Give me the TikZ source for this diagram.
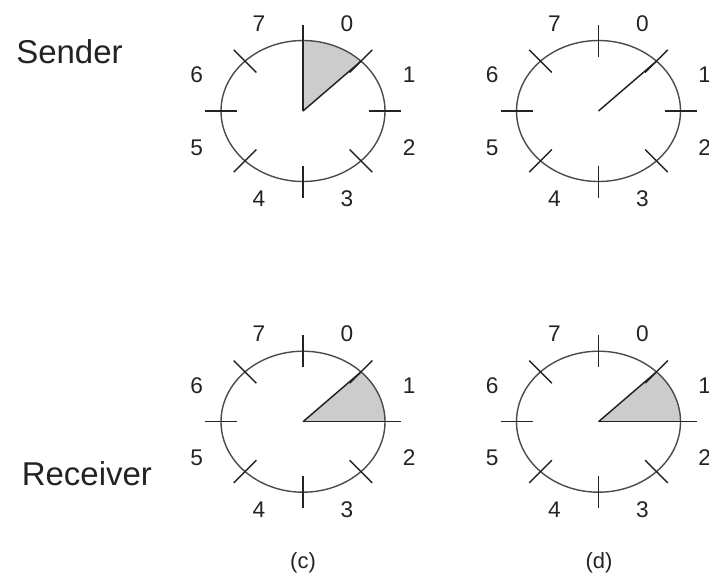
\documentclass[tikz,border=0pt]{standalone}
\usepackage{fontspec}
\setmainfont{Liberation Sans}
\definecolor{ink}{RGB}{35,35,35}
\definecolor{rimgray}{RGB}{75,75,75}
\definecolor{slotgray}{RGB}{204,204,204}

\begin{document}
\begin{tikzpicture}[x=0.75pt,y=0.75pt,
  rim/.style={draw=rimgray,line width=1.05pt},
  tick/.style={draw=ink,line width=1.1pt},
  hand/.style={draw=ink,line width=1.1pt},
  window/.style={fill=slotgray},
  seqno/.style={font=\fontsize{17}{17}\selectfont,text=ink,inner sep=0pt},
  side/.style={font=\fontsize{24.75}{26}\selectfont,text=ink,inner sep=0pt,anchor=base west},
  caption/.style={font=\fontsize{16.5}{16.5}\selectfont,text=ink,inner sep=0pt}
]
  \useasboundingbox (0,0) rectangle (709,-576);
  \clip (0,0) rectangle (709,-576);

  % dial centres
  \coordinate (sa) at (303,-111);
  \coordinate (sb) at (598.5,-111);
  \coordinate (ra) at (303,-421.7);
  \coordinate (rb) at (598.5,-421.7);

  % sending / receiving windows
  \fill[window] (sa) -- ++(90:82 and 70.5)
    arc[start angle=90,end angle=45,x radius=82,y radius=70.5] -- cycle;
  \fill[window] (ra) -- ++(45:82 and 70.5)
    arc[start angle=45,end angle=0,x radius=82,y radius=70.5] -- cycle;
  \fill[window] (rb) -- ++(45:82 and 70.5)
    arc[start angle=45,end angle=0,x radius=82,y radius=70.5] -- cycle;

  % dials
  \foreach \c in {sa,sb,ra,rb}{
    \begin{scope}[shift={(\c)}]
      \draw[rim] (0,0) ellipse [x radius=82,y radius=70.5];
      \foreach \a in {0,45,...,315}
        \draw[tick] (\a:66 and 54.5) -- (\a:98 and 86.5);
      \foreach \n [evaluate=\n as \a using 67.5-45*\n] in {0,...,7}
        \node[seqno] (\c-\n) at (\a:115 and 95) {\n};
    \end{scope}
  }

  % window edges
  \draw[hand] (sa) -- ++(90:82 and 70.5);
  \draw[hand] (sa) -- ++(45:82 and 70.5);
  \draw[hand] (sb) -- ++(45:82 and 70.5);
  \draw[hand] (ra) -- ++(45:82 and 70.5);
  \draw[hand] (ra) -- ++(0:82 and 70.5);
  \draw[hand] (rb) -- ++(45:82 and 70.5);
  \draw[hand] (rb) -- ++(0:82 and 70.5);

  \node[side] (sender) at (16,-63) {Sender};
  \node[side] (receiver) at (21.5,-485) {Receiver};
  \node[caption] (capc) at (303,-563) {(c)};
  \node[caption] (capd) at (599,-563) {(d)};
\end{tikzpicture}
\end{document}
